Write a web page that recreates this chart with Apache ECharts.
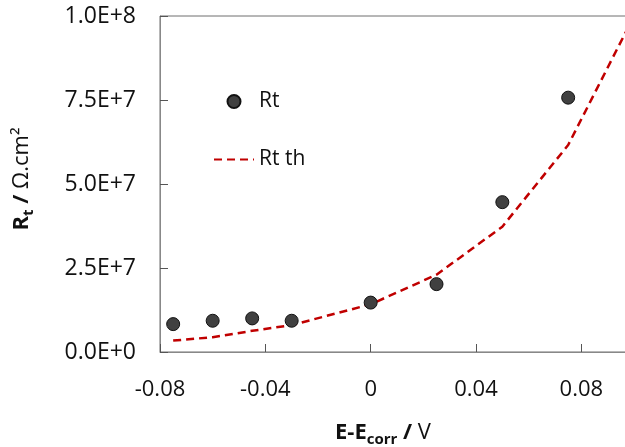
<!DOCTYPE html>
<html>
<head>
<meta charset="utf-8">
<script src="https://cdn.jsdelivr.net/npm/echarts@6/dist/echarts.min.js"></script>
<style>
html,body{margin:0;padding:0;background:#fff;}
#chart{width:625px;height:447px;}
</style>
</head>
<body>
<div id="chart"></div>
<script>
// measured data
const rtX = [-0.075, -0.06, -0.045, -0.03, 0, 0.025, 0.05, 0.075];
const rtValues = [8.3e6, 9.3e6, 1.0e7, 9.3e6, 1.47e7, 2.02e7, 4.46e7, 7.57e7];
const thX = [-0.075, -0.06, -0.045, -0.03, 0, 0.025, 0.05, 0.075, 0.1];
const thValues = [3.4e6, 4.4e6, 6.3e6, 8.0e6, 1.42e7, 2.3e7, 3.73e7, 6.16e7, 1.0e8];
const xTickValues = [-0.08, -0.04, 0, 0.04, 0.08];
const xTickLabels = ['-0.08', '-0.04', '0', '0.04', '0.08'];
const yTickLabels = ['0.0E+0', '2.5E+7', '5.0E+7', '7.5E+7', '1.0E+8'];
const seriesNames = ['Rt', 'Rt th'];

const FONT = 'Open Sans';
const chart = echarts.init(document.getElementById('chart'), null, {renderer: 'canvas'});

const rtData = rtX.map((x, i) => [x, rtValues[i]]);
const thData = thX.map((x, i) => [x, thValues[i]]);

const option = {
  backgroundColor: '#fff',
  animation: false,
  textStyle: {fontFamily: FONT},
  grid: {
    left: 160, top: 16, right: -9, bottom: 95,
    outerBoundsMode: 'none',
    containLabel: false,
    show: true, borderColor: '#6e6e6e', borderWidth: 1
  },
  legend: {
    orient: 'vertical',
    left: 213, top: 91,
    padding: 0,
    itemWidth: 40, itemHeight: 13,
    itemGap: 37,
    textStyle: {fontFamily: FONT, fontSize: 21, color: '#111'},
    data: [
      {name: seriesNames[0]},
      {name: seriesNames[1], itemStyle: {opacity: 0, color: 'transparent', borderWidth: 0}}
    ]
  },
  xAxis: {
    type: 'value',
    min: -0.08, max: 0.1, interval: 0.04,
    axisLine: {show: true, onZero: false, lineStyle: {color: '#888', width: 1}},
    axisTick: {show: true, inside: true, length: 8, lineStyle: {color: '#555'}},
    splitLine: {show: false},
    axisLabel: {
      fontFamily: FONT, fontSize: 22, color: '#111', margin: 27,
      formatter: function (v) {
        for (let i = 0; i < xTickValues.length; i++) {
          if (Math.abs(v - xTickValues[i]) < 1e-9) return xTickLabels[i];
        }
        return '';
      }
    },
    name: '{b|E-E}{sub|corr}{b| /}{n| V}',
    nameLocation: 'middle',
    nameGap: 67,
    nameTextStyle: {
      padding: [0, 28, 0, 0],
      rich: {
        b: {fontFamily: FONT, fontSize: 22, fontWeight: 'bold', color: '#111', lineHeight: 28},
        sub: {fontFamily: FONT, fontSize: 15, fontWeight: 'bold', color: '#111', lineHeight: 28, verticalAlign: 'bottom'},
        n: {fontFamily: FONT, fontSize: 22, color: '#111', lineHeight: 28}
      }
    }
  },
  yAxis: {
    type: 'value',
    min: 0, max: 1e8, interval: 2.5e7,
    axisLine: {show: true, onZero: false, lineStyle: {color: '#888', width: 1}},
    axisTick: {show: true, inside: true, length: 8, lineStyle: {color: '#555'}},
    splitLine: {show: false},
    axisLabel: {
      fontFamily: FONT, fontSize: 23, color: '#111', margin: 24,
      formatter: function (v, i) { return yTickLabels[i] !== undefined ? yTickLabels[i] : ''; }
    },
    name: '{b|R}{sub|t}{b| /}{n| Ω.cm²}',
    nameLocation: 'middle',
    nameGap: 124,
    nameRotate: 90,
    nameTextStyle: {
      padding: [0, 0, 0, 10],
      rich: {
        b: {fontFamily: FONT, fontSize: 22, fontWeight: 'bold', color: '#111', lineHeight: 28},
        sub: {fontFamily: FONT, fontSize: 15, fontWeight: 'bold', color: '#111', lineHeight: 28, verticalAlign: 'bottom'},
        n: {fontFamily: FONT, fontSize: 22, color: '#111', lineHeight: 28}
      }
    }
  },
  series: [
    {
      name: seriesNames[0],
      type: 'scatter',
      data: rtData,
      symbol: 'circle',
      symbolSize: 13,
      itemStyle: {color: '#404040', borderColor: '#111', borderWidth: 1, opacity: 1},
      z: 3
    },
    {
      name: seriesNames[1],
      type: 'line',
      data: thData,
      symbol: 'none',
      showSymbol: false,
      lineStyle: {color: '#c00000', width: 2.5, type: [8, 5]},
      itemStyle: {color: '#c00000'},
      z: 2
    }
  ]
};
chart.setOption(option);
</script>
</body>
</html>
